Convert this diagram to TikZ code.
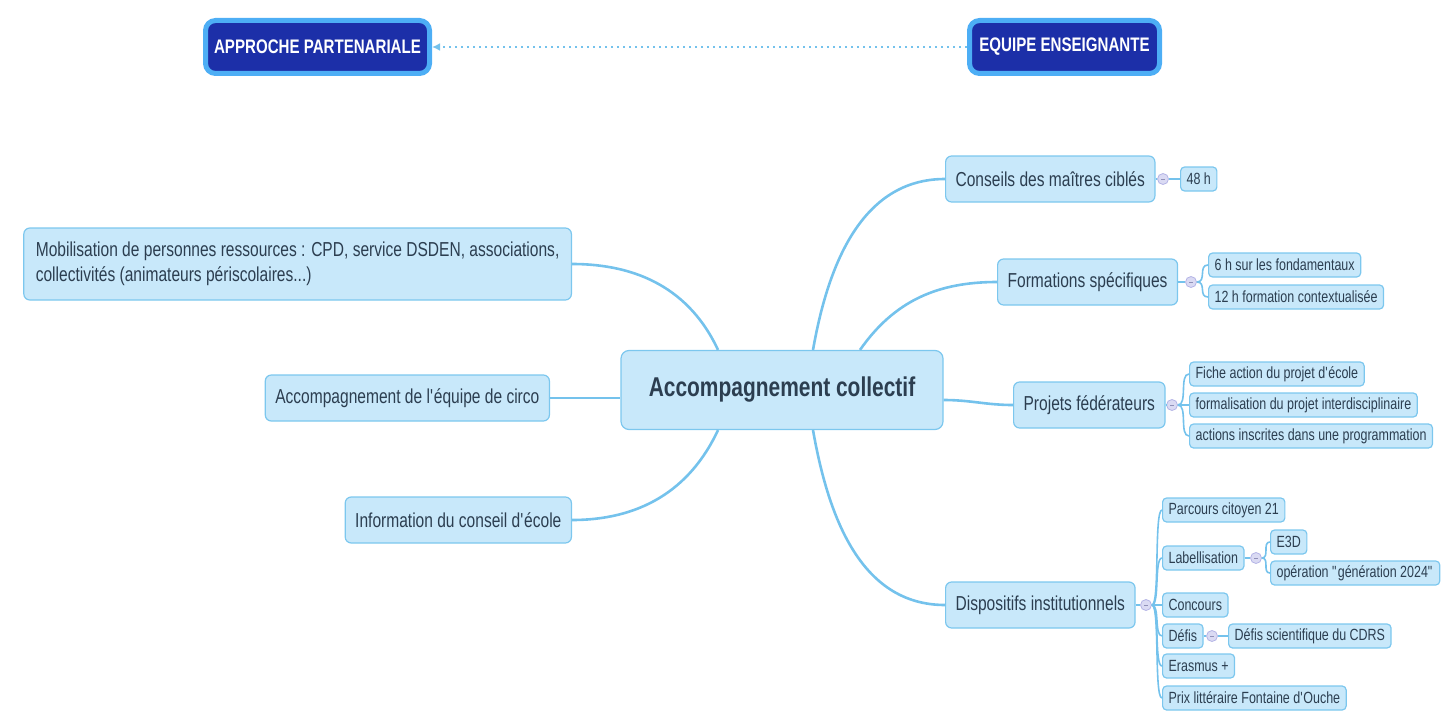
\documentclass[tikz,border=0pt]{standalone}
\usepackage{fontspec}
\setmainfont{Liberation Sans}[FakeStretch=0.77]
\usetikzlibrary{arrows.meta}
\definecolor{boxfill}{HTML}{C8E8FA}
\definecolor{boxline}{HTML}{7CC7EE}
\definecolor{boxtext}{HTML}{2C3E50}
\definecolor{wire}{HTML}{74C2EC}
\definecolor{topfill}{HTML}{1C2FA8}
\definecolor{topline}{HTML}{4DAEF5}
\definecolor{foldfill}{HTML}{DADAF3}
\definecolor{foldline}{HTML}{B4B4E6}
\tikzset{
  topic/.style={draw=boxline,fill=boxfill,rounded corners=3pt,line width=0.6pt,
    minimum height=23pt,inner xsep=5pt,text=boxtext,
    font=\fontsize{10.1}{12.5}\selectfont},
  leaf/.style={draw=boxline,fill=boxfill,rounded corners=2pt,line width=0.6pt,
    minimum height=12pt,inner xsep=3pt,inner ysep=0pt,text=boxtext,
    font=\fontsize{8.1}{9}\selectfont,anchor=west},
  fold/.style={circle,draw=foldline,fill=foldfill,line width=0.4pt,inner sep=0pt,
    minimum size=5.5pt,
    path picture={\draw[foldline!80!black,line width=0.4pt]
      ([xshift=-1pt]path picture bounding box.center) --
      ([xshift=1pt]path picture bounding box.center);}},
  branch/.style={draw=wire,line width=1.3pt},
  twig/.style={draw=wire,line width=0.8pt},
  banner/.style={draw=topline,fill=topfill,rounded corners=5pt,line width=2.5pt,
    text=white,minimum height=26.5pt,font=\fontsize{9.8}{12}\selectfont\bfseries}
}
\newcommand{\apos}{\textquotesingle}
\begin{document}
\begin{tikzpicture}[x=0.5pt,y=-0.5pt]
  \useasboundingbox (0,0) rectangle (1444,717);
  % en-tete
  \node[banner,minimum width=112pt] (approche) at (317.5,47) {APPROCHE PARTENARIALE};
  \node[banner,minimum width=95pt]  (equipe)   at (1064.5,47) {EQUIPE ENSEIGNANTE};
  \draw[wire,dotted,line width=1pt,-{Latex[length=4pt,width=4pt]}] (equipe.west) -- (approche.east);
  % centre
  \node[topic,minimum width=161pt,minimum height=39.5pt,rounded corners=4pt,
        font=\fontsize{13.6}{16}\selectfont\bfseries] (centre) at (782,390) {Accompagnement collectif};
  % gauche
  \node[topic,anchor=east,align=left,minimum height=36pt,inner xsep=6pt] (mob) at (572,264)
    {Mobilisation de personnes ressources : CPD, service DSDEN, associations,\\collectivités (animateurs périscolaires...)};
  \node[topic,anchor=east] (circo) at (550,398) {Accompagnement de l\apos équipe de circo};
  \node[topic,anchor=east] (info)  at (572,520) {Information du conseil d\apos école};
  \draw[branch] (mob.east) to[out=0,in=115] ([xshift=-32pt]centre.north);
  \draw[branch] (circo.east) -- (circo.east -| centre.west);
  \draw[branch] (info.east) to[out=0,in=-115] ([xshift=-32pt]centre.south);
  % droite
  \node[topic,anchor=west] (conseils)    at (945,179)  {Conseils des maîtres ciblés};
  \node[topic,anchor=west] (formations)  at (997,282)  {Formations spécifiques};
  \node[topic,anchor=west] (projets)     at (1013,405) {Projets fédérateurs};
  \node[topic,anchor=west] (dispositifs) at (945,605)  {Dispositifs institutionnels};
  \draw[branch] ([xshift=15.5pt]centre.north) to[out=80,in=180] (conseils.west);
  \draw[branch] ([xshift=39pt]centre.north) to[out=55,in=180] (formations.west);
  \draw[branch] ([yshift=-5pt]centre.east) to[out=0,in=180] (projets.west);
  \draw[branch] ([xshift=15.5pt]centre.south) to[out=-80,in=180] (dispositifs.west);
  % conseils
  \node[fold] (f1) at (1163,179) {};
  \node[leaf] (h48) at (1180,179) {48 h};
  \draw[twig] (conseils.east) -- (f1.west);
  \draw[twig] (f1.east) -- (h48.west);
  % formations
  \node[fold] (f2) at (1191,282) {};
  \node[leaf] (fond) at (1208,265) {6 h sur les fondamentaux};
  \node[leaf] (ctx)  at (1208,297) {12 h formation contextualisée};
  \draw[twig] (formations.east) -- (f2.west);
  \foreach \c in {fond,ctx}
    \draw[twig] (f2.east) to[out=0,in=180,distance=5pt] (\c.west);
  % projets
  \node[fold] (f3) at (1172,405) {};
  \node[leaf] (fiche)  at (1189,374) {Fiche action du projet d\apos école};
  \node[leaf] (formal) at (1189,405) {formalisation du projet interdisciplinaire};
  \node[leaf] (prog)   at (1189,436) {actions inscrites dans une programmation};
  \draw[twig] (projets.east) -- (f3.west);
  \foreach \c in {fiche,formal,prog}
    \draw[twig] (f3.east) to[out=0,in=180,distance=5pt] (\c.west);
  % dispositifs
  \node[fold] (f4) at (1146,605) {};
  \foreach \c/\t/\y in {parcours/Parcours citoyen 21/510,label/Labellisation/558,
      concours/Concours/605,defis/Défis/636,erasmus/Erasmus +/666,
      prix/Prix littéraire Fontaine d\apos Ouche/698}
    \node[leaf] (\c) at (1162,\y) {\t};
  \draw[twig] (dispositifs.east) -- (f4.west);
  \foreach \c in {parcours,label,concours,defis,erasmus,prix}
    \draw[twig] (f4.east) to[out=0,in=180,distance=4pt] (\c.west);
  \node[fold] (f5) at (1256,558) {};
  \node[leaf] (e3d) at (1270,542) {E3D};
  \node[leaf] (gen) at (1270,573) {opération \textquotedbl génération 2024\textquotedbl};
  \draw[twig] (label.east) -- (f5.west);
  \foreach \c in {e3d,gen}
    \draw[twig] (f5.east) to[out=0,in=180,distance=4pt] (\c.west);
  \node[fold] (f6) at (1212,636) {};
  \node[leaf] (cdrs) at (1228,636) {Défis scientifique du CDRS};
  \draw[twig] (defis.east) -- (f6.west);
  \draw[twig] (f6.east) -- (cdrs.west);
\end{tikzpicture}
\end{document}
